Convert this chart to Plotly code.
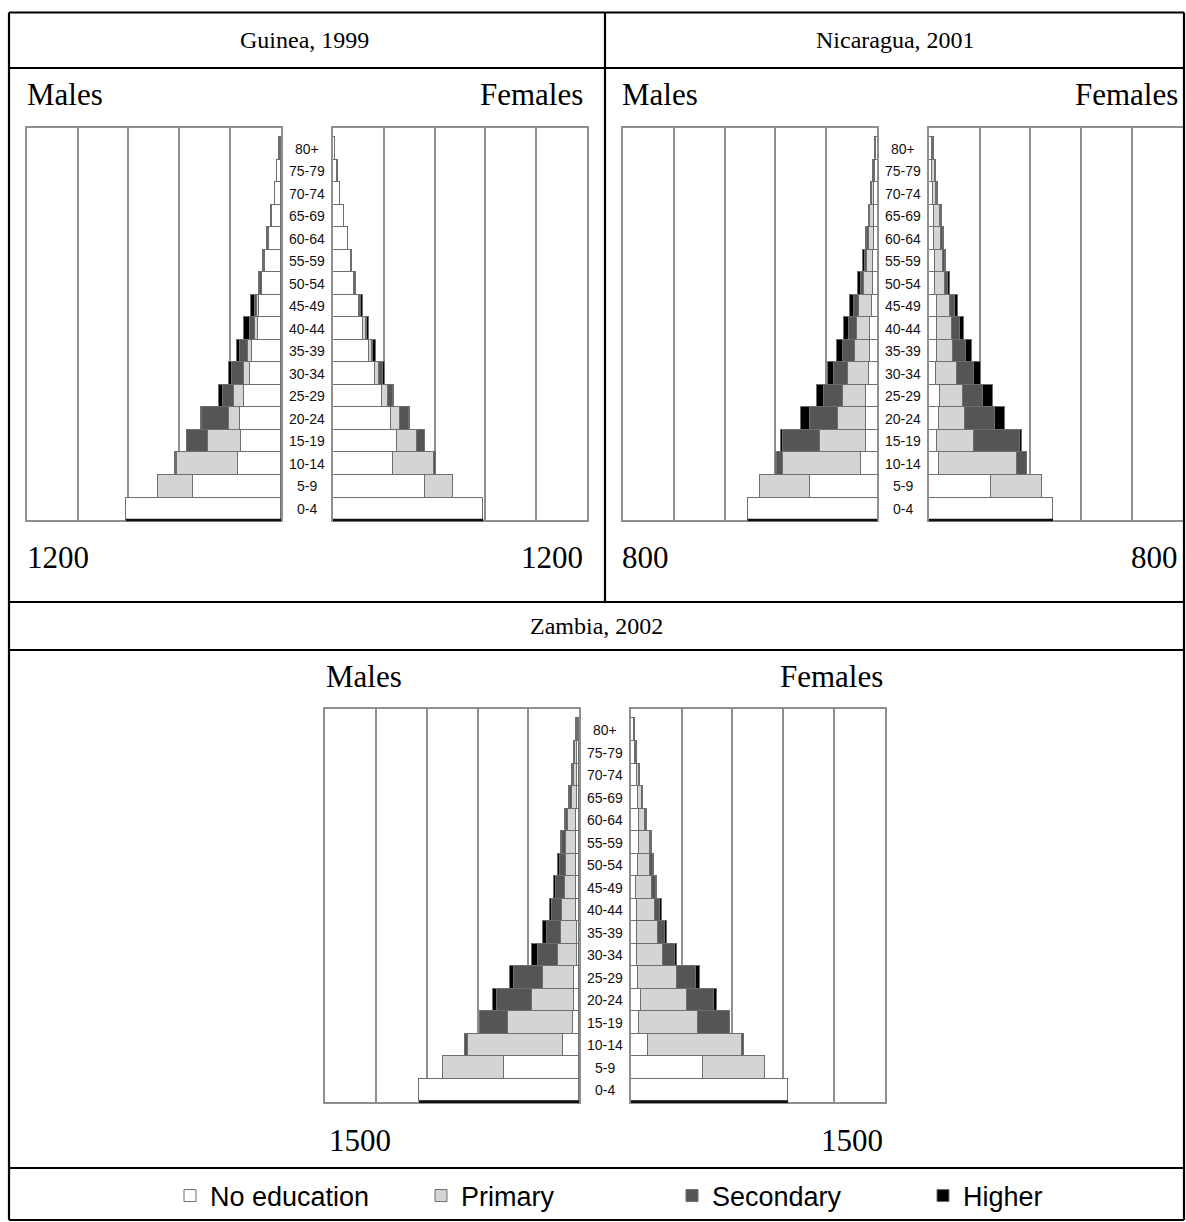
import plotly.graph_objects as go

W, H = 1186, 1222

ages = ["0-4", "5-9", "10-14", "15-19", "20-24", "25-29", "30-34", "35-39", "40-44",
        "45-49", "50-54", "55-59", "60-64", "65-69", "70-74", "75-79", "80+"]
levels = ["No education", "Primary", "Secondary", "Higher"]

# Guinea, 1999
guinea_m_none = [732, 417, 205, 190, 194, 175, 146, 136, 112, 107, 91, 76, 60, 42, 29, 18, 8]
guinea_m_prim = [0, 167, 285, 158, 53, 46, 32, 22, 11, 8, 2, 2, 2, 1, 1, 1, 1]
guinea_m_sec = [0, 0, 8, 97, 125, 55, 53, 36, 24, 11, 6, 4, 3, 2, 1, 1, 0]
guinea_m_high = [0, 0, 3, 0, 6, 16, 17, 16, 28, 16, 8, 5, 3, 2, 0, 0, 0]
guinea_f_none = [710, 436, 282, 301, 273, 230, 198, 171, 143, 124, 100, 86, 69, 50, 32, 19, 9]
guinea_f_prim = [0, 129, 197, 94, 44, 31, 20, 11, 11, 3, 2, 1, 1, 1, 1, 1, 1]
guinea_f_sec = [0, 0, 8, 41, 44, 24, 19, 8, 5, 5, 2, 2, 1, 1, 0, 1, 1]
guinea_f_high = [0, 0, 0, 0, 4, 4, 8, 12, 10, 11, 3, 2, 1, 0, 0, 1, 0]

# Nicaragua, 2001
nic_m_none = [407, 213, 51, 36, 36, 36, 28, 23, 23, 18, 16, 14, 12, 12, 11, 8, 5]
nic_m_prim = [0, 157, 246, 146, 89, 73, 65, 49, 42, 40, 28, 20, 16, 11, 7, 4, 2]
nic_m_sec = [0, 0, 19, 116, 86, 61, 45, 38, 24, 15, 8, 5, 4, 2, 1, 1, 1]
nic_m_high = [0, 0, 2, 4, 29, 22, 19, 18, 16, 14, 9, 7, 4, 3, 2, 1, 1]
nic_f_none = [391, 194, 32, 25, 30, 35, 23, 25, 25, 25, 20, 18, 16, 16, 12, 10, 8]
nic_f_prim = [0, 162, 244, 115, 82, 73, 65, 52, 47, 40, 30, 25, 22, 18, 11, 8, 5]
nic_f_sec = [0, 0, 31, 146, 96, 63, 54, 40, 24, 16, 9, 6, 5, 4, 3, 2, 2]
nic_f_high = [0, 0, 2, 7, 31, 29, 21, 18, 15, 10, 7, 5, 4, 3, 2, 2, 1]

# Zambia, 2002
zam_m_none = [947, 445, 98, 39, 31, 31, 15, 15, 16, 16, 16, 20, 20, 15, 14, 12, 8]
zam_m_prim = [0, 358, 561, 380, 246, 185, 109, 93, 83, 65, 59, 55, 45, 25, 15, 10, 5]
zam_m_sec = [0, 0, 14, 167, 210, 169, 122, 84, 60, 57, 41, 24, 14, 12, 7, 5, 4]
zam_m_high = [0, 0, 3, 0, 24, 24, 30, 20, 14, 10, 12, 6, 6, 7, 5, 4, 4]
zam_f_none = [929, 427, 102, 49, 57, 43, 34, 34, 34, 30, 40, 50, 45, 40, 35, 25, 18]
zam_f_prim = [0, 364, 552, 348, 272, 227, 157, 128, 108, 95, 75, 60, 40, 25, 14, 7, 4]
zam_f_sec = [0, 0, 14, 187, 161, 114, 69, 40, 30, 20, 14, 9, 6, 4, 3, 2, 1]
zam_f_high = [0, 0, 0, 0, 16, 24, 14, 10, 14, 9, 7, 5, 3, 2, 1, 1, 1]

titles = ["Guinea, 1999", "Nicaragua, 2001", "Zambia, 2002"]
scale_max = [1200, 800, 1500]

fill = {"No education": "#ffffff", "Primary": "#d4d4d4", "Secondary": "#555555", "Higher": "#000000"}
SERIF = "Liberation Serif, Times New Roman, serif"
SANS = "Liberation Sans, Arial, sans-serif"


def px(x):
    return x / W


def py(y):
    return 1 - y / H


# panel geometry in pixels: (x0, x1) male, (x0, x1) female, (ytop, ybottom)
geo = [
    ((26.7, 281.0), (333.0, 587.0), (128.0, 520.0)),
    ((622.7, 877.3), (928.7, 1183.0), (128.0, 520.0)),
    ((325.1, 579.3), (631.0, 884.5), (709.3, 1101.7)),
]

data = [
    ([guinea_m_none, guinea_m_prim, guinea_m_sec, guinea_m_high],
     [guinea_f_none, guinea_f_prim, guinea_f_sec, guinea_f_high]),
    ([nic_m_none, nic_m_prim, nic_m_sec, nic_m_high],
     [nic_f_none, nic_f_prim, nic_f_sec, nic_f_high]),
    ([zam_m_none, zam_m_prim, zam_m_sec, zam_m_high],
     [zam_f_none, zam_f_prim, zam_f_sec, zam_f_high]),
]

fig = go.Figure()
layout = {}
shapes = []
annotations = []
GRID = "#8f8f8f"

ax = 0
for p in range(3):
    (mx0, mx1), (fx0, fx1), (yt, yb) = geo[p]
    vmax = scale_max[p]
    for side in range(2):
        ax += 1
        xname = "x" if ax == 1 else f"x{ax}"
        yname = "y" if ax == 1 else f"y{ax}"
        xkey = "xaxis" if ax == 1 else f"xaxis{ax}"
        ykey = "yaxis" if ax == 1 else f"yaxis{ax}"
        series = data[p][side]
        for k, lev in enumerate(levels):
            fig.add_trace(go.Bar(
                y=ages, x=series[k], orientation="h", name=lev,
                xaxis=xname, yaxis=yname,
                marker=dict(color=fill[lev], line=dict(color="#6e6e6e", width=1)),
                legendgroup=lev, showlegend=(ax == 1),
                hoverinfo="x+y+name",
            ))
        x0, x1 = (mx0, mx1) if side == 0 else (fx0, fx1)
        rng = [vmax, 0] if side == 0 else [0, vmax]
        layout[xkey] = dict(
            domain=[px(x0), px(x1)], range=rng, anchor=yname,
            showgrid=True, gridcolor=GRID, gridwidth=1.5, dtick=vmax / 5, tick0=0,
            showticklabels=False, ticks="", zeroline=False,
            showline=True, linecolor=GRID, linewidth=1.5, mirror=True, fixedrange=True,
        )
        layout[ykey] = dict(
            domain=[py(yb), py(yt)], anchor=xname, type="category",
            categoryorder="array", categoryarray=ages, range=[-0.5, 16.92],
            showgrid=False, showticklabels=False, ticks="", zeroline=False,
            showline=True, linecolor=GRID, linewidth=1.5, mirror=True, fixedrange=True,
        )
        # dark bottom edge under the 0-4 bar
        total0 = sum(s[0] for s in series)
        shapes.append(dict(type="line", xref=xname, yref=f"{yname} domain",
                           x0=0, x1=total0, y0=0, y1=0,
                           line=dict(color="#111111", width=2.5), layer="above"))
    # age labels in the middle column
    xc = px((mx1 + fx0) / 2)
    yname_m = "y" if ax - 1 == 1 else f"y{ax - 1}"
    for a in ages:
        annotations.append(dict(text=a, x=xc, xref="paper", y=a, yref=yname_m,
                                showarrow=False, xanchor="center", yanchor="middle",
                                font=dict(family=SANS, size=14, color="#111111")))

# titles and labels
txt = dict(showarrow=False, xref="paper", yref="paper")
annotations += [
    dict(text=titles[0], x=px(304), y=py(40), xanchor="center", yanchor="middle",
         font=dict(family=SERIF, size=24, color="black"), **txt),
    dict(text=titles[1], x=px(895), y=py(40), xanchor="center", yanchor="middle",
         font=dict(family=SERIF, size=24, color="black"), **txt),
    dict(text=titles[2], x=px(596.5), y=py(626), xanchor="center", yanchor="middle",
         font=dict(family=SERIF, size=24, color="black"), **txt),
]
lab_font = dict(family=SERIF, size=31, color="black")
side_labels = [
    (geo[0][0][0] - 2, geo[0][1][1] - 2, 95, 557),
    (geo[1][0][0] - 3, geo[1][1][1] - 3, 95, 557),
    (geo[2][0][0] - 1, geo[2][1][1] + 1, 676, 1140),
]
for i, (lx, rx, ylab, ynum) in enumerate(side_labels):
    annotations += [
        dict(text="Males", x=px(lx), y=py(ylab), xanchor="left", yanchor="middle", font=lab_font, **txt),
        dict(text="Females", x=px(rx), y=py(ylab), xanchor="right", yanchor="middle", font=lab_font, **txt),
        dict(text=str(scale_max[i]), x=px(lx + (3 if i == 2 else 0)), y=py(ynum), xanchor="left",
             yanchor="middle", font=lab_font, **txt),
        dict(text=str(scale_max[i]), x=px(rx), y=py(ynum), xanchor="right", yanchor="middle",
             font=lab_font, **txt),
    ]

# table rules
def hline(y, x0=9, x1=1184):
    return dict(type="line", xref="paper", yref="paper", x0=px(x0), x1=px(x1), y0=py(y), y1=py(y),
                line=dict(color="black", width=2.2))


def vline(x, y0, y1):
    return dict(type="line", xref="paper", yref="paper", x0=px(x), x1=px(x), y0=py(y0), y1=py(y1),
                line=dict(color="black", width=2.2))


shapes += [
    hline(12.5), hline(68), hline(602), hline(650), hline(1168), hline(1220),
    vline(9, 12.5, 1220), vline(1184, 12.5, 1220), vline(605, 12.5, 602),
]

fig.update_layout(
    width=W, height=H, margin=dict(l=0, r=0, t=0, b=0, autoexpand=False),
    paper_bgcolor="white", plot_bgcolor="white",
    barmode="stack", bargap=0,
    showlegend=True,
    legend=dict(orientation="h", x=px(170), xanchor="left", y=py(1196), yanchor="middle",
                font=dict(family=SANS, size=27, color="black"), entrywidth=206,
                entrywidthmode="pixels", traceorder="normal", bgcolor="rgba(0,0,0,0)"),
    shapes=shapes, annotations=annotations,
    **layout,
)

fig.write_html("out.html")
